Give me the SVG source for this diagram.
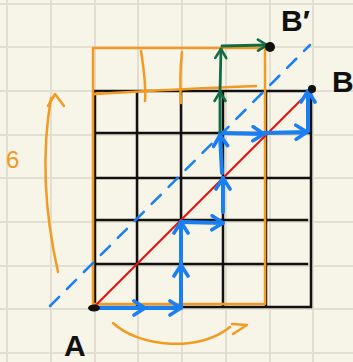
<svg xmlns="http://www.w3.org/2000/svg" width="353" height="362" viewBox="0 0 353 362">
<defs>
<style>
.paper{stroke:#e2ded0;stroke-width:2}
.grid{stroke:#111;stroke-width:2.5;fill:none;stroke-linecap:square}
.orange{stroke:#f39a22;fill:none;stroke-width:2.5;stroke-linecap:round;stroke-linejoin:round}
.blue{stroke:#1a7ff2;fill:none;stroke-width:4;stroke-linecap:round;marker-end:url(#ab)}
.green{stroke:#136b45;fill:none;stroke-width:2.8;stroke-linecap:round;marker-end:url(#ag)}
.lbl{font-family:"Liberation Sans",Arial,sans-serif;fill:#111;font-size:30px}
</style>
<marker id="ab" viewBox="-14 -9 16 18" refX="0" refY="0" markerWidth="16" markerHeight="18" markerUnits="userSpaceOnUse" orient="auto">
<path d="M-11,-7 L0,0 L-11,7" fill="none" stroke="#1a7ff2" stroke-width="3.6" stroke-linecap="round" stroke-linejoin="round"/>
</marker>
<marker id="ag" viewBox="-12 -8 14 16" refX="0" refY="0" markerWidth="14" markerHeight="16" markerUnits="userSpaceOnUse" orient="auto">
<path d="M-9,-5.5 L0,0 L-9,5.5" fill="none" stroke="#136b45" stroke-width="2.6" stroke-linecap="round" stroke-linejoin="round"/>
</marker>
</defs>
<g id="paper">
<rect width="353" height="362" fill="#f7f4e8"/>
<path class="paper" d="M7,0V362M51,0V362M95,0V362M138,0V362M182,0V362M226,0V362M270,0V362M313,0V362M0,4H353M0,47H353M0,91H353M0,135H353M0,178H353M0,222H353M0,266H353M0,309H353M0,353H353"/>
</g>
<g id="grid">
<path class="grid" d="M95,91V307M137,91V307M181,91V307M223,91V307M266,91V307M311,91V307M95,91H311M95,133H311M95,178H311M95,220H307M95,264H307M95,307H311"/>
</g>
<g id="orange-marks">
<rect class="orange" x="93" y="48" width="172" height="256"/>
<path class="orange" d="M94,94 C150,91 200,88 256,86"/>
<path class="orange" stroke-width="4" d="M94,94 L103,93"/>
<path class="orange" d="M141,51 C144,70 146,88 145,101"/>
<path class="orange" d="M182,52 C180,70 180,88 181,103"/>
<path class="orange" d="M58,272 C44,210 42,150 51,98"/>
<path class="orange" d="M48,106 L55,94 L64,106"/>
<path class="orange" d="M113,323 C140,348 200,352 230,327"/>
<path class="orange" d="M232,324 L247,325 L233,334"/>
<text x="6" y="168" font-family="Liberation Sans,Arial,sans-serif" font-size="24" fill="#f39a22">6</text>
</g>
<g id="connectors">
<line x1="95" y1="306" x2="312" y2="89" stroke="#e01515" stroke-width="2.2"/>
<line x1="50" y1="306" x2="310" y2="45" stroke="#1a7ff2" stroke-width="2.5" stroke-dasharray="13 11" stroke-linecap="round"/>
<path class="blue" d="M95,308 L145,308"/>
<path class="blue" d="M145,308 L181,308"/>
<path class="blue" d="M181,308 L181,265"/>
<path class="blue" d="M181,265 L181,222"/>
<path class="blue" d="M181,222 L223,223"/>
<path class="blue" d="M223,212 L223,178"/>
<path class="blue" d="M222,173 L220,135"/>
<path class="blue" d="M220,133 L264,134"/>
<path class="blue" d="M264,133 L307,132"/>
<path class="blue" d="M308,131 L308,91"/>
<path class="green" d="M220,132 L220,92"/>
<path class="green" d="M220,92 L221,49"/>
<path class="green" d="M222,46 L267,45"/>
</g>
<g id="A">
<ellipse cx="94" cy="308" rx="6" ry="3.5" fill="#111"/>
<text class="lbl" x="64" y="356" font-weight="bold">A</text>
</g>
<g id="B">
<circle cx="312" cy="89" r="4" fill="#111"/>
<text class="lbl" x="332" y="92" font-size="26" font-weight="bold">B</text>
</g>
<g id="B-prime">
<circle cx="270" cy="47" r="5" fill="#111"/>
<text class="lbl" x="281" y="31" font-size="26" font-weight="bold">B′</text>
</g>
</svg>
